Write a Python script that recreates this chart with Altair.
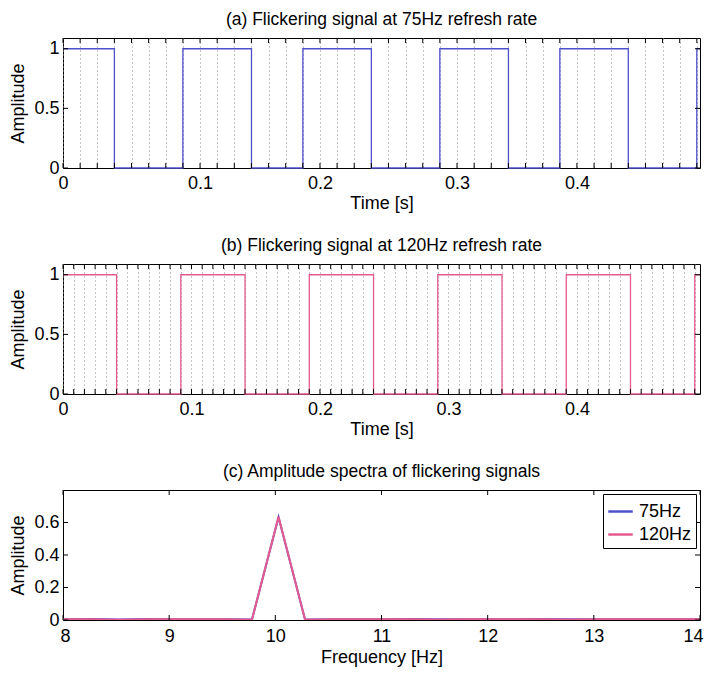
import altair as alt
import pandas as pd

FONT = "Liberation Sans"
BLUE = "#5050cc"
PINK = "#e65a8f"

# ---- data ----
titles = [
    "(a) Flickering signal at 75Hz refresh rate",
    "(b) Flickering signal at 120Hz refresh rate",
    "(c) Amplitude spectra of flickering signals",
]
refresh_rates = [75, 120]
t_end = 0.4958

# transition times [s] and levels (step-after)
sig75_t = [0.0, 0.04, 0.0933, 0.1467, 0.1867, 0.24, 0.2933, 0.3467, 0.3867, 0.44, 0.4933, 0.4958]
sig75_v = [1, 0, 1, 0, 1, 0, 1, 0, 1, 0, 1, 1]
sig120_t = [0.0, 0.0417, 0.0917, 0.1417, 0.1917, 0.2417, 0.2917, 0.3417, 0.3917, 0.4417, 0.4917, 0.4958]
sig120_v = [1, 0, 1, 0, 1, 0, 1, 0, 1, 0, 1, 1]

sig_yticks = [0, 0.5, 1]

freq = [7.78, 8.03, 8.28, 8.53, 8.78, 9.03, 9.28, 9.53, 9.78, 10.03, 10.28, 10.53, 10.78,
        11.03, 11.28, 11.53, 11.78, 12.03, 12.28, 12.53, 12.78, 13.03, 13.28, 13.53, 13.78, 14.03]
amp75 = [0.004, 0.005, 0.006, 0.003, 0.006, 0.005, 0.004, 0.005, 0.003, 0.632, 0.003, 0.005, 0.004,
         0.005, 0.006, 0.004, 0.005, 0.004, 0.005, 0.006, 0.004, 0.005, 0.004, 0.005, 0.004, 0.005]
amp120 = [0.005, 0.004, 0.005, 0.002, 0.005, 0.004, 0.005, 0.004, 0.002, 0.636, 0.002, 0.004, 0.005,
          0.004, 0.005, 0.003, 0.004, 0.005, 0.004, 0.005, 0.003, 0.004, 0.005, 0.004, 0.005, 0.004]
spec_xticks = [8, 9, 10, 11, 12, 13, 14]
spec_yticks = [0, 0.2, 0.4, 0.6]
series = ["75Hz", "120Hz"]

W, H = 637, 130
TK = 5  # inward tick length (px)
FS = 18
TFS = 17.5


def inward_ticks_x(df, field, scale, axis):
    top = alt.Chart(df).mark_rule(color="black", strokeWidth=1).encode(
        x=alt.X(f"{field}:Q", scale=scale, axis=axis), y=alt.value(0), y2=alt.value(TK))
    bot = alt.Chart(df).mark_rule(color="black", strokeWidth=1).encode(
        x=alt.X(f"{field}:Q", scale=scale, axis=axis), y=alt.value(H), y2=alt.value(H - TK))
    return [top, bot]


def inward_ticks_y(df, field, scale, axis):
    left = alt.Chart(df).mark_rule(color="black", strokeWidth=1).encode(
        y=alt.Y(f"{field}:Q", scale=scale, axis=axis), x=alt.value(0), x2=alt.value(TK))
    right = alt.Chart(df).mark_rule(color="black", strokeWidth=1).encode(
        y=alt.Y(f"{field}:Q", scale=scale, axis=axis), x=alt.value(W), x2=alt.value(W - TK))
    return [left, right]


def signal_panel(title, times, vals, color, rate):
    frames = [k / rate for k in range(int(t_end * rate) + 1)]
    sig = pd.DataFrame({"t": times, "v": vals})
    fr = pd.DataFrame({"t": frames})
    yt = pd.DataFrame({"y": sig_yticks})
    xscale = alt.Scale(domain=[0, t_end], nice=False, zero=False)
    yscale = alt.Scale(domain=[0, 1.09], nice=False)
    label_expr = ("(datum.value*10 - floor(datum.value*10 + 0.01)) < 0.07 ? "
                  "format(floor(datum.value*10 + 0.01)/10, '~g') : ''")
    xaxis = alt.Axis(values=frames, labelExpr=label_expr, grid=True, gridDash=[1, 3],
                     gridColor="#8a8a8a", gridWidth=1, ticks=False, domain=False,
                     title="Time [s]", labelOverlap=False, labelFlush=False,
                     labelPadding=6, titlePadding=2)
    yaxis = alt.Axis(values=sig_yticks, format="~g", grid=False, ticks=False, domain=False,
                     title="Amplitude", labelPadding=4, titlePadding=6)
    line = alt.Chart(sig).mark_line(interpolate="step-after", color=color, strokeWidth=1.3).encode(
        x=alt.X("t:Q", scale=xscale, axis=xaxis), y=alt.Y("v:Q", scale=yscale, axis=yaxis))
    layers = [line] + inward_ticks_x(fr, "t", xscale, xaxis) + inward_ticks_y(yt, "y", yscale, yaxis)
    return alt.layer(*layers).properties(
        width=W, height=H, title=alt.Title(title, fontSize=TFS, font=FONT, fontWeight="normal", offset=9))


a = signal_panel(titles[0], sig75_t, sig75_v, BLUE, refresh_rates[0])
b = signal_panel(titles[1], sig120_t, sig120_v, PINK, refresh_rates[1])

spec = pd.DataFrame({
    "f": freq + freq,
    "amp": amp75 + amp120,
    "series": [series[0]] * len(freq) + [series[1]] * len(freq),
})
cx = alt.Scale(domain=[8, 14], nice=False, zero=False)
cy = alt.Scale(domain=[0, 0.8], nice=False)
cxaxis = alt.Axis(values=spec_xticks, format="~g", grid=False, ticks=False, domain=False,
                  title="Frequency [Hz]", labelPadding=7, titlePadding=3,
                  labelFlush=True, labelFlushOffset=3)
cyaxis = alt.Axis(values=spec_yticks, format="~g", grid=False, ticks=False, domain=False,
                  title="Amplitude", labelPadding=4, titlePadding=6)
spec_line = alt.Chart(spec).mark_line(strokeWidth=2, clip=True).encode(
    x=alt.X("f:Q", scale=cx, axis=cxaxis),
    y=alt.Y("amp:Q", scale=cy, axis=cyaxis),
    color=alt.Color("series:N", scale=alt.Scale(domain=series, range=[BLUE, PINK]),
                    legend=alt.Legend(title=None, orient="top-right", offset=4,
                                      fillColor="white", strokeColor="black", padding=4,
                                      labelFontSize=FS, labelFont=FONT, symbolType="stroke",
                                      symbolSize=600, symbolStrokeWidth=2.5, rowPadding=0,
                                      labelOffset=5)),
    order=alt.Order("series:N", sort="descending"),
)
c_layers = [spec_line] \
    + inward_ticks_x(pd.DataFrame({"x": spec_xticks}), "x", cx, cxaxis) \
    + inward_ticks_y(pd.DataFrame({"y": spec_yticks}), "y", cy, cyaxis)
c = alt.layer(*c_layers).properties(
    width=W, height=H, title=alt.Title(titles[2], fontSize=TFS, font=FONT, fontWeight="normal", offset=9))

chart = alt.vconcat(a, b, c, spacing=23).resolve_legend(color="independent").properties(
    padding={"left": 9, "top": 10, "right": 0, "bottom": 0}
).configure(font=FONT).configure_view(stroke="black", strokeWidth=1).configure_axis(
    labelFont=FONT, labelFontSize=FS, labelColor="black", titleFont=FONT, titleFontSize=FS,
    titleFontWeight="normal", titleColor="black"
).configure_title(color="black", anchor="middle")

chart.save("out.html", embed_options={"renderer": "svg", "actions": False})
